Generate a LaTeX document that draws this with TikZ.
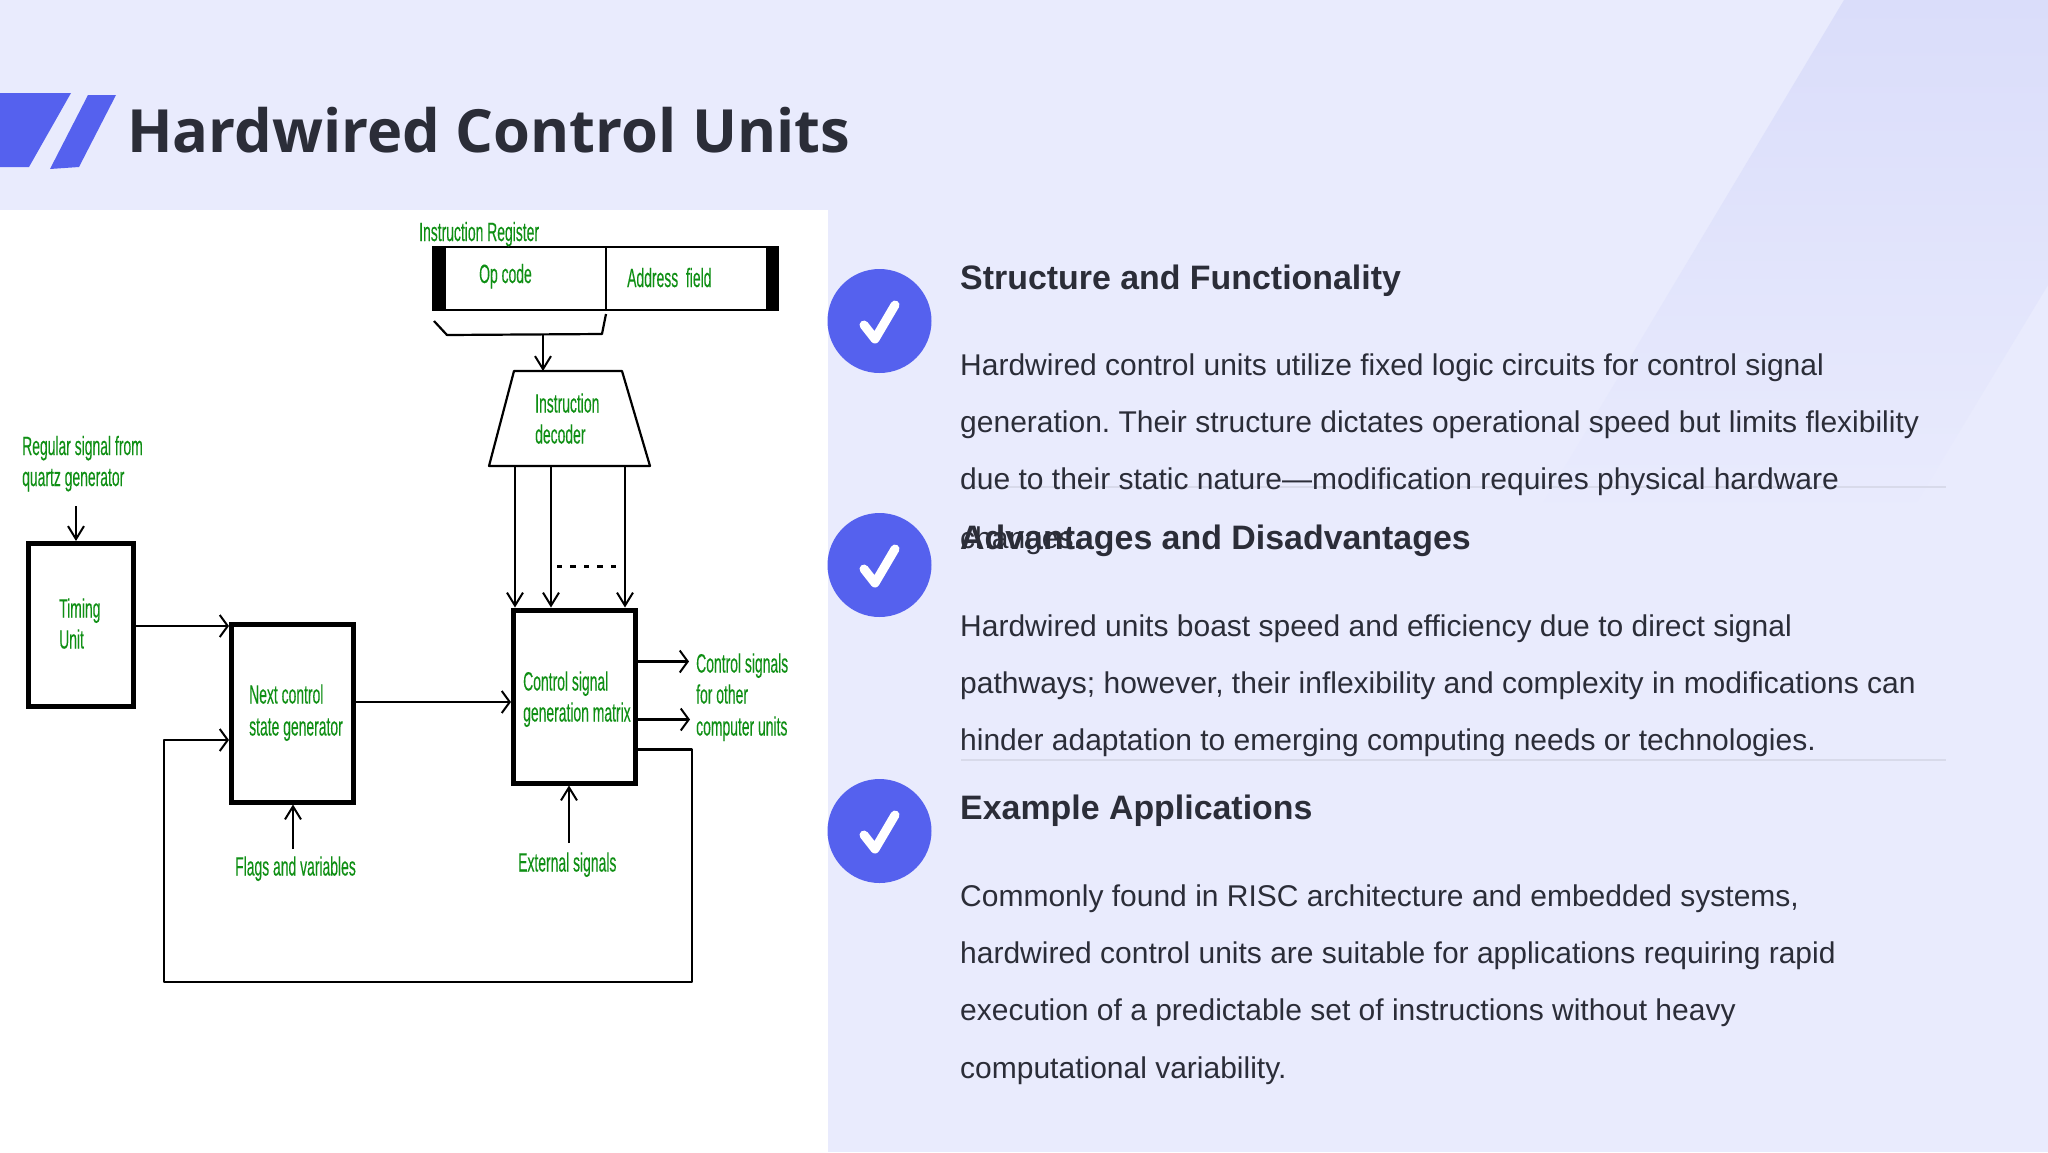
\documentclass[tikz,border=0pt]{standalone}
\usepackage{fontspec}
\setmainfont{Liberation Sans}
\newfontfamily\titlefont{Open Sans}
\newfontfamily\condfont[FakeStretch=0.525,FakeBold=0.15]{Liberation Sans}
\usetikzlibrary{arrows.meta}
\definecolor{bgc}{HTML}{E9EBFD}
\definecolor{bandc}{HTML}{DADDFA}
\definecolor{accent}{HTML}{5561EE}
\definecolor{inkc}{HTML}{2B2D38}
\definecolor{greenc}{HTML}{0F8F14}
\definecolor{rulec}{HTML}{D8DAEA}
\tikzset{
  boxthick/.style={draw=black,line width=5pt,fill=white,inner sep=0pt,minimum width=#1},
  cond/.style={text=greenc,inner sep=0pt,anchor=base west,font=\condfont\fontsize{26.5}{26.5}\selectfont},
  wire/.style={draw=black,line width=2.2pt},
  arrv/.style={wire,-{Straight Barb[length=13pt,width=16pt,line width=2pt]}},
  arrh/.style={wire,-{Straight Barb[length=8pt,width=22pt,line width=2pt]}},
  heading/.style={text=inkc,inner sep=0pt,anchor=base west,font=\bfseries\fontsize{33.9}{34}\selectfont},
  bodytext/.style={text=inkc,inner sep=0pt,anchor=base west,font=\fontsize{30}{30}\selectfont\frenchspacing},
  badge/.style={circle,fill=accent,minimum size=104pt,inner sep=0pt},
  tick/.style={draw=white,line width=9pt,line cap=round,line join=round},
  sep/.style={draw=rulec,line width=1.2pt}
}
\begin{document}
\begin{tikzpicture}[x=1pt,y=-1pt]
\useasboundingbox (0,0) rectangle (2048,1152);
\fill[bgc] (0,0) rectangle (2048,1152);
\shade[top color=bandc,bottom color=bgc] (1844,0) -- (2048,0) -- (2048,285) -- (1906,520) -- (1533,520) -- cycle;
% logo
\fill[accent] (0,93) -- (71,93) -- (29,167) -- (0,167) -- cycle;
\fill[accent] (88,95) -- (116,95) -- (79,167) -- (50,169) -- cycle;
\node[text=inkc,inner sep=0pt,anchor=base west,font=\titlefont\bfseries\fontsize{59.6}{60}\selectfont] (title) at (127,152) {Hardwired Control Units};
% white panel
\fill[white] (0,210) rectangle (828,1152);
% register
\node[draw=black,line width=2pt,fill=white,minimum width=345pt,minimum height=63pt,inner sep=0pt] (ir) at (605.5,278.5) {};
\fill[black] (432,246) rectangle (446,311);
\fill[black] (766,246) rectangle (779,311);
\coordinate (divtop) at (606,247);
\draw[wire] (divtop) -- (divtop |- ir.south);
\node[cond] (irl) at (419,241) {Instruction Register};
\node[cond] (opl) at (479,283) {Op code};
\node[cond] (adl) at (627,287) {Address\ \ field};
\coordinate (b1) at (434,321);
\coordinate (b2) at (447,335);
\coordinate (b3) at (602,334);
\coordinate (b4) at (606,314);
\coordinate (bm) at (543,334);
\draw[wire,line join=round] (b1) -- (b2) -- (b3) -- (b4);
% decoder
\coordinate (d1) at (514,371);
\coordinate (d2) at (622,371);
\coordinate (d3) at (650,466);
\coordinate (d4) at (489,466);
\draw[wire,fill=white,line join=round] (d1) -- (d2) -- (d3) -- (d4) -- cycle;
\draw[arrv] (bm) -- (bm |- d1);
\node[cond] (idl1) at (535,412.5) {Instruction};
\node[cond] (idl2) at (535,443.5) {decoder};
% boxes
\node[boxthick=105pt,minimum height=163pt] (timing) at (81,625) {};
\node[boxthick=122pt,minimum height=178pt] (next) at (292.5,713) {};
\node[boxthick=122pt,minimum height=173pt] (matrix) at (574.5,696.5) {};
\node[cond] (tl1) at (59,617.5) {Timing};
\node[cond] (tl2) at (59,648.5) {Unit};
\node[cond] (nl1) at (249,703.5) {Next control};
\node[cond] (nl2) at (249,735.5) {state generator};
\node[cond] (ml1) at (523,690.5) {Control signal};
\node[cond] (ml2) at (523,721.5) {generation matrix};
% decoder lines
\coordinate (l1) at (515,466);
\coordinate (l2) at (551,466);
\coordinate (l3) at (625,466);
\draw[arrv] (l1) -- (l1 |- matrix.north);
\draw[arrv] (l2) -- (l2 |- matrix.north);
\draw[arrv] (l3) -- (l3 |- matrix.north);
\coordinate (da) at (557,566);
\coordinate (db) at (616,566);
\draw[line width=3pt,dash pattern=on 5pt off 8pt on 6pt off 8pt] (da) -- (db);
% left
\node[cond] (rl1) at (22,455) {Regular signal from};
\node[cond] (rl2) at (22,486) {quartz generator};
\coordinate (rs) at (76,506);
\draw[arrv] (rs) -- (rs |- timing.north);
\coordinate (tn) at (136,626);
\draw[arrh] (tn) -- (tn -| next.west);
\coordinate (nm) at (356,702);
\draw[arrh] (nm) -- (nm -| matrix.west);
\coordinate (fs) at (293,849);
\draw[arrv] (fs) -- (fs |- next.south);
\node[cond] (fl) at (235,875.5) {Flags and variables};
\coordinate (es) at (569,843);
\draw[arrv] (es) -- (es |- matrix.south);
\node[cond] (el) at (518,871.5) {External signals};
% outputs
\coordinate (o1) at (638,661.5);
\coordinate (o1e) at (689,661.5);
\coordinate (o2) at (638,719.5);
\coordinate (o2e) at (690,719.5);
\draw[arrh] (o1) -- (o1e);
\draw[arrh] (o2) -- (o2e);
\node[cond] (cl1) at (696,672.5) {Control signals};
\node[cond] (cl2) at (696,703.5) {for other};
\node[cond] (cl3) at (696,735.5) {computer units};
% feedback
\coordinate (f0) at (638,749.5);
\coordinate (f1) at (692,749.5);
\coordinate (f2) at (692,982);
\coordinate (f3) at (164,982);
\coordinate (f4) at (164,740);
\draw[arrh,line join=round] (f0) -- (f1) -- (f2) -- (f3) -- (f4) -- (f4 -| next.west);
% separators
\coordinate (s1a) at (961,487);
\coordinate (s1b) at (1946,487);
\coordinate (s2a) at (961,760);
\coordinate (s2b) at (1946,760);
\draw[sep] (s1a) -- (s1b);
\draw[sep] (s2a) -- (s2b);
% badges
\node[badge] (c1) at (879.5,321) {};
\node[badge] (c2) at (879.5,565) {};
\node[badge] (c3) at (879.5,831) {};
\draw[tick] (864,325) -- (875,339) -- (895,305);
\draw[tick] (864,569) -- (875,583) -- (895,549);
\draw[tick] (864,835) -- (875,849) -- (895,815);
% right text
\node[heading] (h1) at (960,289.5) {Structure and Functionality};
\node[bodytext] at (960,375) {Hardwired control units utilize fixed logic circuits for control signal};
\node[bodytext] at (960,432) {generation. Their structure dictates operational speed but limits flexibility};
\node[bodytext] at (960,489) {due to their static nature—modification requires physical hardware};
\node[bodytext] at (960,548) {changes.};
\node[heading] (h2) at (960,549) {Advantages and Disadvantages};
\node[bodytext] at (960,636) {Hardwired units boast speed and efficiency due to direct signal};
\node[bodytext] at (960,693) {pathways; however, their inflexibility and complexity in modifications can};
\node[bodytext] at (960,750) {hinder adaptation to emerging computing needs or technologies.};
\node[heading] (h3) at (960,819.5) {Example Applications};
\node[bodytext] at (960,906) {Commonly found in RISC architecture and embedded systems,};
\node[bodytext] at (960,963) {hardwired control units are suitable for applications requiring rapid};
\node[bodytext] at (960,1020) {execution of a predictable set of instructions without heavy};
\node[bodytext] at (960,1078) {computational variability.};
\end{tikzpicture}
\end{document}
